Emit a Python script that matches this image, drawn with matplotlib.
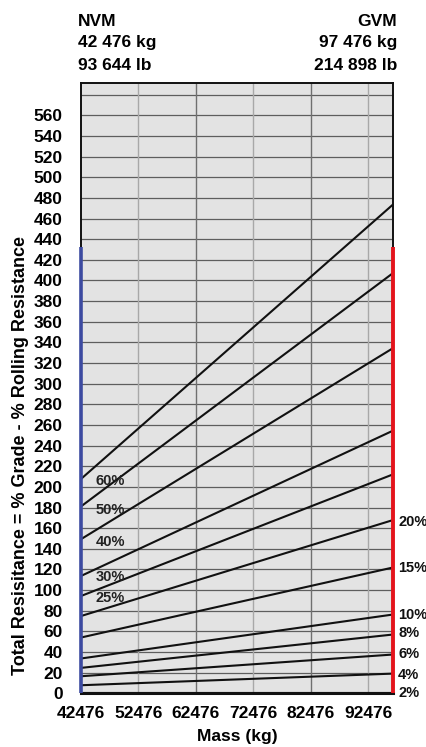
import matplotlib
matplotlib.use("Agg")
import matplotlib.pyplot as plt
import numpy as np

plt.rcParams['font.family'] = ['Liberation Sans', 'DejaVu Sans']
plt.rcParams['font.weight'] = 'bold'

# data
mass_start = 42476
mass_end = 96900
grades = ['2%', '4%', '6%', '8%', '10%', '15%', '20%', '25%', '30%', '40%', '50%', '60%']
resist_start = [0, 7.8, 16.5, 24.6, 33.7, 54, 74.8, 94.2, 113.6, 149.2, 180.9, 207.5]
resist_end = [0, 19.1, 37.6, 57, 76.4, 122, 168, 212.3, 254.7, 334.7, 407.5, 474]

left_labels = ['60%', '50%', '40%', '30%', '25%']
left_label_y = [206, 178, 147, 113, 92.6]
right_labels = ['20%', '15%', '10%', '8%', '6%', '4%', '2%']
right_label_y = [166, 121, 76, 58, 38, 18, 0]

x_ticks = [42476, 52476, 62476, 72476, 82476, 92476]
y_ticks = list(range(0, 561, 20))
y_grid = list(range(20, 581, 20))
limit_height = 432

fig = plt.figure(figsize=(4.27, 7.47), dpi=100)
W, H = 427, 747
ax_l, ax_r, ax_t, ax_b = 80.8, 393.5, 83.3, 693.3
ax = fig.add_axes([ax_l / W, (H - ax_b) / H, (ax_r - ax_l) / W, (ax_b - ax_t) / H])
ax.set_facecolor('#e3e3e3')
ax.set_xlim(mass_start, mass_end)
ax.set_ylim(0, 591)

# grid
for yv in y_grid:
    ax.axhline(yv, color='#5e5e5e', lw=0.9, zorder=1)
for i, xv in enumerate(x_ticks[1:]):
    col = '#a8a8a8' if i % 2 == 0 else '#707070'
    ax.axvline(xv, color=col, lw=1.0, zorder=1)

# resistance lines
for s, e in zip(resist_start, resist_end):
    ax.plot([mass_start, mass_end], [s, e], color='#111111', lw=1.5, zorder=3,
            solid_capstyle='butt')

# NVM / GVM bars
ax.plot([mass_start, mass_start], [0, limit_height], color='#3c4aa0', lw=2.6, zorder=6,
        solid_capstyle='butt', clip_on=False)
ax.plot([mass_end, mass_end], [0, limit_height], color='#e3141c', lw=2.8, zorder=6,
        solid_capstyle='butt', clip_on=False)

for lab, yv in zip(left_labels, left_label_y):
    ax.text(45120, yv, lab, fontsize=10.5, fontweight='bold', color='#222222',
            va='center', ha='left', zorder=5)
for lab, yv in zip(right_labels, right_label_y):
    ax.text(1.015, yv, lab, fontsize=10.5, fontweight='bold', color='#111111',
            va='center', ha='left', transform=ax.get_yaxis_transform(), clip_on=False)

ax.set_xticks(x_ticks)
ax.set_xticklabels([str(v) for v in x_ticks])
ax.set_yticks(y_ticks)
ax.tick_params(axis='both', length=0, labelsize=12.5)
ax.tick_params(axis='x', pad=9)
ax.tick_params(axis='y', pad=13)
for lab in ax.get_xticklabels() + ax.get_yticklabels():
    lab.set_fontweight('bold')

for sp in ax.spines.values():
    sp.set_color('#111111')
    sp.set_linewidth(1.4)
ax.spines['bottom'].set_linewidth(2.2)

ax.set_xlabel('Mass (kg)', fontsize=12.5, fontweight='bold')
ax.xaxis.set_label_coords(0.5, -0.058)
ax.set_ylabel('Total Resisitance = % Grade - % Rolling Resistance', fontsize=13,
              fontweight='bold', va='center')
ax.yaxis.set_label_coords(-0.194, 0.39)

# header text
fig.text(78 / W, 1 - 22 / H, 'NVM', fontsize=12.5, fontweight='bold', va='center', ha='left')
fig.text(78 / W, 1 - 43 / H, '42 476 kg', fontsize=12.5, fontweight='bold', va='center', ha='left')
fig.text(78 / W, 1 - 65 / H, '93 644 lb', fontsize=12.5, fontweight='bold', va='center', ha='left')
fig.text(397 / W, 1 - 22 / H, 'GVM', fontsize=12.5, fontweight='bold', va='center', ha='right')
fig.text(397 / W, 1 - 43 / H, '97 476 kg', fontsize=12.5, fontweight='bold', va='center', ha='right')
fig.text(397 / W, 1 - 65 / H, '214 898 lb', fontsize=12.5, fontweight='bold', va='center', ha='right')

fig.savefig('out.png', dpi=100)
